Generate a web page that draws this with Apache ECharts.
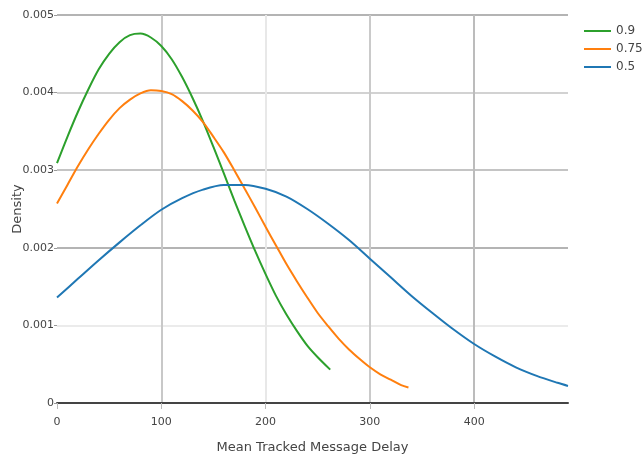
<!DOCTYPE html>
<html><head><meta charset="utf-8">
<script src="https://cdn.jsdelivr.net/npm/echarts@6/dist/echarts.min.js"></script>
<style>html,body{margin:0;padding:0;background:#fff}#c{width:643px;height:455px}</style>
</head><body><div id="c"></div>
<script>
var seriesNames = ['0.9', '0.75', '0.5'];
var xTickLabels = ['0', '100', '200', '300', '400'];
var yTickLabels = ['0', '0.001', '0.002', '0.003', '0.004', '0.005'];

var x09 = [0,10,20,30,40,50,60,70,80,90,100,110,120,130,140,150,160,170,180,190,200,210,220,230,240,250,262];
var y09 = [0.00309,0.00343,0.00375,0.00404,0.00430,0.00450,0.00465,0.00474,0.00476,0.00471,0.00460,0.00443,0.00420,0.00393,0.00363,0.00330,0.00296,0.00261,0.00228,0.00196,0.00166,0.00138,0.00114,0.00093,0.00074,0.00059,0.00043];

var x075 = [0,10,20,30,40,50,60,70,80,90,100,110,120,130,140,150,160,170,180,190,200,210,220,230,240,250,260,270,280,290,300,310,320,330,337];
var y075 = [0.00257,0.00281,0.00305,0.00327,0.00347,0.00365,0.00380,0.00391,0.00399,0.00403,0.00402,0.00398,0.00389,0.00377,0.00362,0.00343,0.00323,0.00300,0.00276,0.00252,0.00227,0.00203,0.00179,0.00157,0.00136,0.00116,0.00099,0.00083,0.00069,0.00057,0.00046,0.00037,0.00030,0.00023,0.00020];

var x05 = [0,20,40,60,80,100,120,140,160,180,200,220,240,260,280,300,320,340,360,380,400,420,440,460,480,490];
var y05 = [0.00136,0.00160,0.00184,0.00207,0.00229,0.00249,0.00264,0.00275,0.00281,0.00281,0.00276,0.00266,0.00250,0.00231,0.00210,0.00186,0.00162,0.00138,0.00116,0.00095,0.00076,0.00060,0.00046,0.00035,0.00026,0.00022];

function pairs(xs, ys) { return xs.map(function (x, i) { return [x, ys[i]]; }); }

var colors = ['#2ca02c', '#ff7f0e', '#1f77b4'];
var chart = echarts.init(document.getElementById('c'), null, {renderer: 'canvas'});
chart.setOption({
  animation: false,
  color: colors,
  textStyle: {fontFamily: 'DejaVu Sans'},
  grid: {left: 57, right: 75, top: 15, bottom: 52, containLabel: false, outerBoundsMode: 'none'},
  legend: {
    orient: 'vertical', left: 579, top: 20, itemGap: 6, itemWidth: 27, itemHeight: 2,
    icon: 'rect', data: seriesNames,
    textStyle: {color: '#444', fontSize: 12, fontFamily: 'DejaVu Sans'}
  },
  xAxis: {
    type: 'value', min: 0, max: 490, interval: 100,
    name: 'Mean Tracked Message Delay', nameLocation: 'middle', nameGap: 38,
    nameTextStyle: {color: '#444', fontSize: 13, fontFamily: 'DejaVu Sans'},
    axisLine: {show: true, onZero: false, lineStyle: {color: '#444', width: 2}},
    axisTick: {show: true, length: 6, lineStyle: {color: '#bbb', width: 1}},
    axisLabel: {color: '#444', fontSize: 11, margin: 14, showMaxLabel: false,
      formatter: function (v) { var i = xTickLabels.indexOf(String(v)); return i >= 0 ? xTickLabels[i] : ''; }},
    splitLine: {show: true, lineStyle: {width: 2, color: ['rgba(0,0,0,0)', '#c8c8c8', '#e8e8e8', '#cacaca', '#bcbcbc', 'rgba(0,0,0,0)']}}
  },
  yAxis: {
    type: 'value', min: 0, max: 0.005, interval: 0.001,
    name: 'Density', nameLocation: 'middle', nameGap: 33, nameMoveOverlap: false,
    nameTextStyle: {color: '#444', fontSize: 13, fontFamily: 'DejaVu Sans'},
    axisLine: {show: false},
    axisTick: {show: true, length: 3, lineStyle: {color: '#999', width: 1}},
    axisLabel: {color: '#444', fontSize: 11, margin: 3,
      formatter: function (v) { var i = Math.round(v * 1000); return yTickLabels[i] || ''; }},
    splitLine: {show: true, lineStyle: {width: 2, color: ['rgba(0,0,0,0)', '#ebebeb', '#b4b4b4', '#c4c4c4', '#d2d2d2', '#b4b4b4']}}
  },
  series: [
    {name: seriesNames[0], type: 'line', data: pairs(x09, y09), showSymbol: false, symbol: 'none', smooth: 0.3, lineStyle: {width: 2}},
    {name: seriesNames[1], type: 'line', data: pairs(x075, y075), showSymbol: false, symbol: 'none', smooth: 0.3, lineStyle: {width: 2}},
    {name: seriesNames[2], type: 'line', data: pairs(x05, y05), showSymbol: false, symbol: 'none', smooth: 0.3, lineStyle: {width: 2}}
  ]
});
</script></body></html>
